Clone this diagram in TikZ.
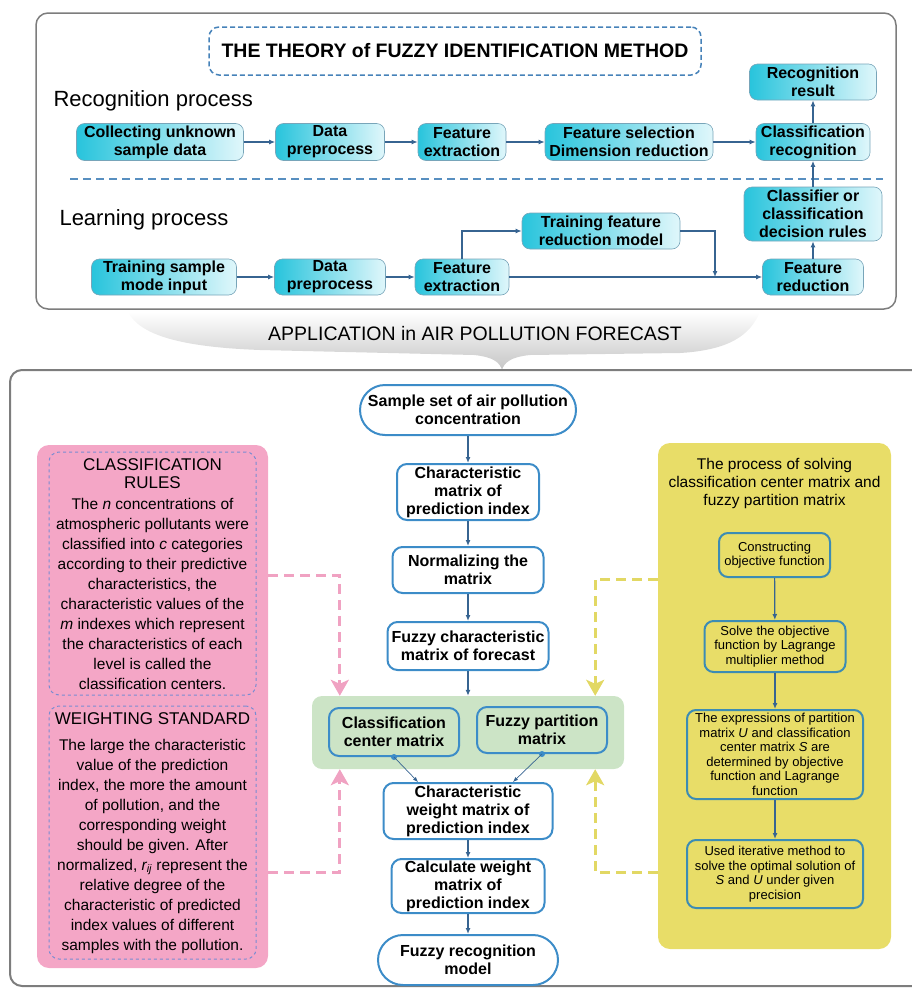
\documentclass[tikz,border=0pt]{standalone}
\usepackage{fontspec}
\setmainfont{Liberation Sans}
\usetikzlibrary{arrows.meta}

\definecolor{frameGray}{RGB}{125,125,125}
\definecolor{titleBlue}{RGB}{70,130,185}
\definecolor{cyanDark}{RGB}{40,196,220}
\definecolor{cyanLight}{RGB}{224,247,251}
\definecolor{cyanEdge}{RGB}{120,165,185}
\definecolor{arrowBlue}{RGB}{55,100,145}
\definecolor{boxBlue}{RGB}{60,140,200}
\definecolor{pinkFill}{RGB}{244,166,198}
\definecolor{pinkDash}{RGB}{120,140,210}
\definecolor{pinkLink}{RGB}{240,162,194}
\definecolor{greenFill}{RGB}{204,228,198}
\definecolor{yellowFill}{RGB}{232,221,104}
\definecolor{yellowEdge}{RGB}{60,140,180}
\definecolor{yellowLink}{RGB}{226,216,100}

\begin{document}
\begin{tikzpicture}[x=1pt,y=-1pt,
    procbox/.style={draw=cyanEdge, line width=0.6pt, rounded corners=8pt,
      left color=cyanDark, right color=cyanLight, inner sep=0pt,
      align=center, font=\bfseries\fontsize{16}{18}\selectfont},
    procarrow/.style={draw=arrowBlue, line width=1.2pt,
      -{Latex[length=6pt,width=5pt]}},
    flowbox/.style={draw=boxBlue, line width=2pt, fill=white,
      rounded corners=10pt, inner sep=0pt, align=center,
      font=\bfseries\fontsize{16}{18}\selectfont},
    flowarrow/.style={draw=arrowBlue, line width=1.2pt,
      -{Latex[length=6pt,width=5pt]}},
    thinarrow/.style={draw=arrowBlue, line width=0.7pt,
      -{Latex[length=5pt,width=4pt]}},
    rulebox/.style={draw=pinkDash, dashed, line width=1pt,
      rounded corners=10pt, inner sep=0pt},
    pinkhead/.style={align=center, font=\fontsize{17}{18}\selectfont},
    pinkbody/.style={align=center, font=\fontsize{15.5}{20}\selectfont},
    solvebox/.style={draw=yellowEdge, line width=2pt, rounded corners=9pt,
      inner sep=0pt, align=center, font=\fontsize{13}{14.5}\selectfont},
    pinklink/.style={draw=pinkLink, line width=3pt,
      dash pattern=on 10pt off 6pt,
      -{Stealth[length=16pt,width=18pt,inset=4pt]}},
    yellowlink/.style={draw=yellowLink, line width=3pt,
      dash pattern=on 10pt off 6pt,
      -{Stealth[length=16pt,width=18pt,inset=4pt]}}]

  \useasboundingbox (0,0) rectangle (912,988);

  % Frame round the theory of the method.
  \draw[frameGray, line width=1.5pt, rounded corners=12pt]
  (36,13) rectangle (896,309);

  \node[draw=titleBlue, line width=1.5pt, dash pattern=on 5pt off 3pt,
  rounded corners=10pt, minimum width=492pt, minimum height=48pt,
  font=\bfseries\fontsize{19.5}{20}\selectfont] (title) at (455,51)
  {THE THEORY of FUZZY IDENTIFICATION METHOD};

  \node[anchor=west, font=\fontsize{22}{24}\selectfont] (reclabel)
  at (50,101) {Recognition process};
  \node[anchor=west, font=\fontsize{22}{24}\selectfont] (lrnlabel)
  at (56,220) {Learning process};

  % The recognition row.
  \node[procbox, minimum width=167pt, minimum height=37pt] (collect)
  at (160,142) {Collecting unknown\\sample data};
  \node[procbox, minimum width=109pt, minimum height=37pt] (prerec)
  at (330,142) {Data\\preprocess};
  \node[procbox, minimum width=88pt, minimum height=37pt] (extrec)
  at (462,142) {Feature\\extraction};
  \node[procbox, minimum width=168pt, minimum height=37pt] (select)
  at (629,142) {Feature selection\\Dimension reduction};
  \node[procbox, minimum width=114pt, minimum height=37pt] (classrec)
  at (813,142) {Classification\\recognition};
  \node[procbox, minimum width=127pt, minimum height=36pt] (result)
  at (813,82) {Recognition\\result};

  \draw[procarrow] (collect) -- (prerec);
  \draw[procarrow] (prerec) -- (extrec);
  \draw[procarrow] (extrec) -- (select);
  \draw[procarrow] (select) -- (classrec);
  \draw[procarrow] (classrec) -- (result);

  % Line between the two processes.
  \draw[titleBlue!90, line width=1.5pt, dash pattern=on 8pt off 5pt]
  (70,179) -- (883,179);

  % The learning row.
  \node[procbox, minimum width=145pt, minimum height=36pt] (train)
  at (164,277) {Training sample\\mode input};
  \node[procbox, minimum width=111pt, minimum height=36pt] (prelrn)
  at (330,277) {Data\\preprocess};
  \node[procbox, minimum width=94pt, minimum height=36pt] (extlrn)
  at (462,277) {Feature\\extraction};
  \node[procbox, minimum width=158pt, minimum height=36pt] (trainred)
  at (601,231) {Training feature\\reduction model};
  \node[procbox, minimum width=101pt, minimum height=36pt] (reduce)
  at (813,277) {Feature\\reduction};
  \node[procbox, minimum width=138pt, minimum height=54pt] (classifier)
  at (813,214) {Classifier or\\classification\\decision rules};
  \coordinate (join) at (715,277);

  \draw[procarrow] (train) -- (prelrn);
  \draw[procarrow] (prelrn) -- (extlrn);
  \draw[procarrow] (extlrn) -- (reduce);
  \draw[procarrow] (extlrn.north) |- (trainred.west);
  \draw[procarrow] (trainred.east) -| (join);
  \draw[procarrow] (reduce) -- (classifier);
  \draw[procarrow] (classifier) -- (classrec);

  % Banner with the application.
  \shade[top color=white, bottom color=gray!45]
  (128,312) -- (760,312)
  .. controls (750,335) and (730,350) .. (680,353) -- (530,355)
  .. controls (510,357) and (504,363) .. (502,370)
  .. controls (500,363) and (494,357) .. (474,355) -- (260,350)
  .. controls (180,347) and (140,335) .. (128,312) -- cycle;
  \node[font=\fontsize{19.5}{20}\selectfont] (banner) at (475,334)
  {APPLICATION in AIR POLLUTION FORECAST};

  % Frame round the application, open on the right.
  \draw[frameGray, line width=2pt, rounded corners=12pt]
  (914,370) -- (10,370) -- (10,986) -- (914,986);

  % The pink panel with its two rules.
  \node[fill=pinkFill, rounded corners=12pt, minimum width=231pt,
  minimum height=523pt] (pinkpanel) at (152.5,706.5) {};
  \node[rulebox, minimum width=207pt, minimum height=243pt] (rules)
  at (152.5,573.5) {};
  \node[rulebox, minimum width=207pt, minimum height=253pt] (weights)
  at (152.5,832.5) {};

  \node[pinkhead] (rulestitle) at (152.5,474) {CLASSIFICATION\\RULES};
  \node[pinkbody] (rulestext) at (152.5,594)
  {The \textit{n} concentrations of\\
    atmospheric pollutants were\\
    classified into \textit{c} categories\\
    according to their predictive\\
    characteristics, the\\
    characteristic values of the\\
    \textit{m} indexes which represent\\
    the characteristics of each\\
    level is called the\\
    classification centers.};
  \node[pinkhead] (weightstitle) at (152.5,719) {WEIGHTING STANDARD};
  \node[pinkbody] (weightstext) at (152.5,846)
  {The large the characteristic\\
    value of the prediction\\
    index, the more the amount\\
    of pollution, and the\\
    corresponding weight\\
    should be given. After\\
    normalized, \textit{r\textsubscript{ij}} represent the\\
    relative degree of the\\
    characteristic of predicted\\
    index values of different\\
    samples with the pollution.};

  % The yellow panel for solving the matrices.
  \node[fill=yellowFill, rounded corners=12pt, minimum width=233pt,
  minimum height=506pt] (yellowpanel) at (774.5,696) {};
  \node[align=center, font=\fontsize{15.5}{18}\selectfont] (solvetitle)
  at (774.5,483) {The process of solving\\classification center matrix and\\
    fuzzy partition matrix};
  \node[solvebox, minimum width=111pt, minimum height=44pt] (objective)
  at (774.5,555) {Constructing\\objective function};
  \node[solvebox, minimum width=141pt, minimum height=51pt] (lagrange)
  at (775,646.5) {Solve the objective\\function by Lagrange\\multiplier method};
  \node[solvebox, minimum width=176pt, minimum height=89pt] (express)
  at (775,754.5) {The expressions of partition\\matrix \textit{U} and classification\\
    center matrix \textit{S} are\\determined by objective\\function and Lagrange\\function};
  \node[solvebox, minimum width=176pt, minimum height=68pt] (iterate)
  at (775,874) {Used iterative method to\\solve the optimal solution of\\
    \textit{S} and \textit{U} under given\\precision};

  \draw[flowarrow] (objective) -- (lagrange);
  \draw[flowarrow] (lagrange) -- (express);
  \draw[flowarrow] (express) -- (iterate);

  % The main flow in the middle.
  \node[flowbox, rounded corners=25pt, minimum width=216pt,
  minimum height=50pt] (sample) at (468,410)
  {Sample set of air pollution\\concentration};
  \node[flowbox, minimum width=142pt, minimum height=56pt] (charmat)
  at (468,492) {Characteristic\\matrix of\\prediction index};
  \node[flowbox, minimum width=151pt, minimum height=46pt] (normal)
  at (468,570) {Normalizing the\\matrix};
  \node[flowbox, minimum width=161pt, minimum height=48pt] (fuzzychar)
  at (468,646) {Fuzzy characteristic\\matrix of forecast};

  \node[fill=greenFill, rounded corners=10pt, minimum width=312pt,
  minimum height=73pt] (green) at (468,732.5) {};
  \node[flowbox, fill=greenFill, minimum width=130pt, minimum height=48pt]
  (center) at (394,732) {Classification\\center matrix};
  \node[flowbox, fill=greenFill, minimum width=130pt, minimum height=46pt]
  (partition) at (542,730) {Fuzzy partition\\matrix};

  \node[flowbox, minimum width=169pt, minimum height=56pt] (weightmat)
  at (468,811) {Characteristic\\weight matrix of\\prediction index};
  \node[flowbox, minimum width=153pt, minimum height=54pt] (calcweight)
  at (468,886) {Calculate weight\\matrix of\\prediction index};
  \node[flowbox, rounded corners=25pt, minimum width=180pt,
  minimum height=50pt] (model) at (468,960) {Fuzzy recognition\\model};

  \draw[flowarrow] (sample) -- (charmat);
  \draw[flowarrow] (charmat) -- (normal);
  \draw[flowarrow] (normal) -- (fuzzychar);
  \draw[flowarrow] (fuzzychar) -- (green);
  \draw[flowarrow] (weightmat) -- (calcweight);
  \draw[flowarrow] (calcweight) -- (model);

  % Both matrices feed the weight matrix.
  \fill[boxBlue] (center.south) circle (3pt);
  \fill[boxBlue] (partition.south) circle (3pt);
  \draw[thinarrow] (center.south) -- ([xshift=-50pt]weightmat.north);
  \draw[thinarrow] (partition.south) -- ([xshift=45pt]weightmat.north);

  % Dashed links from the side panels to the green block.
  \draw[pinklink] ([yshift=131pt]pinkpanel.east)
  -| ([xshift=28pt]green.north west);
  \draw[pinklink] ([yshift=-166pt]pinkpanel.east)
  -| ([xshift=28pt]green.south west);
  \draw[yellowlink] ([yshift=117pt]yellowpanel.west)
  -| ([xshift=-29pt]green.north east);
  \draw[yellowlink] ([yshift=-176pt]yellowpanel.west)
  -| ([xshift=-29pt]green.south east);
\end{tikzpicture}
\end{document}
